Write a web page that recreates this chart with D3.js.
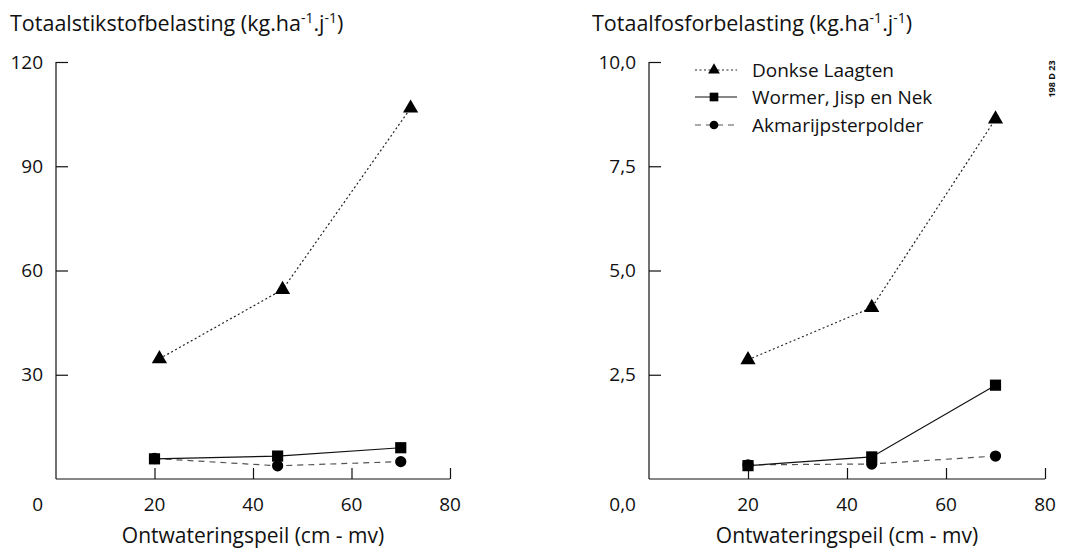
<!DOCTYPE html>
<html>
<head>
<meta charset="utf-8">
<script src="https://cdn.jsdelivr.net/npm/d3@7"></script>
<style>
	body { margin: 0; background: #fff; }
	text { font-family: "Open Sans", "Noto Sans", sans-serif; fill: #111; }
</style>
</head>
<body>
<svg id="chart" width="1070" height="551"></svg>
<script>
"use strict"

//
// Data
//
var xLevels = [20, 45, 70];
var xTicks = [20, 40, 60, 80];
var seriesNames = ["Donkse Laagten", "Wormer, Jisp en Nek", "Akmarijpsterpolder"];

// stikstof (N)
var nDonkseX = [21, 46, 72];
var nDonkse = [34.6, 54.5, 106.7];
var nWormer = [5.8, 6.6, 9.0];
var nAkmarijp = [5.9, 3.8, 5.0];
var nTicks = [30, 60, 90, 120];

// fosfor (P)
var pDonkseX = [20, 45, 70];
var pDonkse = [2.86, 4.11, 8.63];
var pWormer = [0.32, 0.53, 2.25];
var pAkmarijp = [0.34, 0.36, 0.55];
var pTicks = [2.5, 5.0, 7.5, 10.0];

var LINE_DASH = ["2,2.5", null, "6,5"];
var LINE_COLOR = ["#222", "#111", "#555"];
var MARKER = [d3.symbolTriangle, d3.symbolSquare, d3.symbolCircle];
var MARKER_SIZE = [100, 125, 100];
var NUM_SIZE = "19px";
var TXT_SIZE = "21px";

var svg = d3.select("#chart");

function drawPanel(opt) {
	var x = d3.scaleLinear().domain([0, 80]).range([opt.left, opt.right]);
	var y = d3.scaleLinear().domain([0, opt.yMax]).range([479, 62]);
	var g = svg.append("g");

	// title with superscripts
	var t = g.append("text")
		.attr("x", opt.titleX)
		.attr("y", 31)
		.style("font-size", "21.5px");
	t.append("tspan").text(opt.title + " (kg.ha");
	t.append("tspan").attr("dy", -8).style("font-size", "14px").text("-1");
	t.append("tspan").attr("dy", 8).text(".j");
	t.append("tspan").attr("dy", -8).style("font-size", "14px").text("-1");
	t.append("tspan").attr("dy", 8).text(")");

	// axes (ticks inward)
	var yAxis = d3.axisRight(y).tickValues(opt.yTicks).tickSize(12).tickFormat("");
	g.append("g")
		.attr("transform", "translate(" + x(0) + ",0)")
		.call(yAxis)
		.call(function(s) { s.select(".domain").attr("d", "M0," + y(opt.yMax) + "V" + y(0)); })
		;
	var xAxis = d3.axisTop(x).tickValues(xTicks).tickSize(11).tickFormat("");
	g.append("g")
		.attr("transform", "translate(0," + y(0) + ")")
		.call(xAxis)
		.call(function(s) { s.select(".domain").attr("d", "M" + x(0) + ",0H" + x(80)); })
		;
	g.selectAll(".domain, .tick line")
		.attr("stroke", "#111")
		.attr("stroke-width", 1.2);

	// tick labels
	g.selectAll(".ylab")
		.data(opt.yTicks)
		.enter().append("text")
		.attr("class", "ylab")
		.attr("x", x(0) - 13)
		.attr("y", function(d) { return y(d); })
		.attr("dy", "0.35em")
		.attr("text-anchor", "end")
		.style("font-size", NUM_SIZE)
		.text(opt.fmt);
	g.append("text")
		.attr("x", x(0) - 13)
		.attr("y", 504)
		.attr("dy", "0.35em")
		.attr("text-anchor", "end")
		.style("font-size", NUM_SIZE)
		.text(opt.fmt(0));
	g.selectAll(".xlab")
		.data(xTicks)
		.enter().append("text")
		.attr("class", "xlab")
		.attr("x", function(d) { return x(d); })
		.attr("y", 504)
		.attr("dy", "0.35em")
		.attr("text-anchor", "middle")
		.style("font-size", NUM_SIZE)
		.text(function(d) { return d; });
	g.append("text")
		.attr("x", (x(0) + x(80)) / 2)
		.attr("y", 543)
		.attr("text-anchor", "middle")
		.style("font-size", TXT_SIZE)
		.text("Ontwateringspeil (cm - mv)");

	// series, drawn back to front
	var line = d3.line()
		.x(function(d) { return x(d[0]); })
		.y(function(d) { return y(d[1]); });
	[2, 1, 0].forEach(function(i) {
		var s = opt.series[i];
		var pts = d3.zip(s.x, s.v);
		g.append("path")
			.datum(pts)
			.attr("d", line)
			.attr("fill", "none")
			.attr("stroke", LINE_COLOR[i])
			.attr("stroke-width", 1.2)
			.attr("stroke-dasharray", LINE_DASH[i]);
		g.selectAll(".m" + i)
			.data(pts)
			.enter().append("path")
			.attr("class", "m" + i)
			.attr("transform", function(d) { return "translate(" + x(d[0]) + "," + y(d[1]) + ")"; })
			.attr("d", d3.symbol().type(MARKER[i]).size(MARKER_SIZE[i]))
			.attr("fill", "#000");
	});
	return g;
}

drawPanel({
	left: 56, right: 450, yMax: 120, yTicks: nTicks, titleX: 10,
	title: "Totaalstikstofbelasting",
	fmt: function(d) { return d3.format("d")(d); },
	series: [
		{x: nDonkseX, v: nDonkse},
		{x: xLevels, v: nWormer},
		{x: xLevels, v: nAkmarijp}
	]
});

var right = drawPanel({
	left: 649, right: 1045, yMax: 10, yTicks: pTicks, titleX: 592,
	title: "Totaalfosforbelasting",
	fmt: function(d) { return d3.format(".1f")(d).replace(".", ","); },
	series: [
		{x: pDonkseX, v: pDonkse},
		{x: xLevels, v: pWormer},
		{x: xLevels, v: pAkmarijp}
	]
});

// legend
var legendRows = [70, 97, 125];
var legend = right.selectAll(".leg")
	.data(seriesNames)
	.enter().append("g")
	.attr("class", "leg")
	.attr("transform", function(d, i) { return "translate(695," + legendRows[i] + ")"; });
legend.append("line")
	.attr("x1", 0).attr("x2", 42)
	.attr("stroke", function(d, i) { return LINE_COLOR[i]; })
	.attr("stroke-width", 1.2)
	.attr("stroke-dasharray", function(d, i) { return LINE_DASH[i]; });
legend.append("path")
	.attr("transform", "translate(19,0)")
	.attr("d", function(d, i) { return d3.symbol().type(MARKER[i]).size(MARKER_SIZE[i] * 0.6)(); })
	.attr("fill", "#000");
legend.append("text")
	.attr("x", 57)
	.attr("dy", "0.35em")
	.style("font-size", "19px")
	.text(function(d) { return d; });

// figure code
svg.append("text")
	.attr("transform", "translate(1055,79) rotate(-90)")
	.attr("text-anchor", "middle")
	.style("font-size", "9px")
	.style("font-weight", "bold")
	.text("198 D 23");
</script>
</body>
</html>
